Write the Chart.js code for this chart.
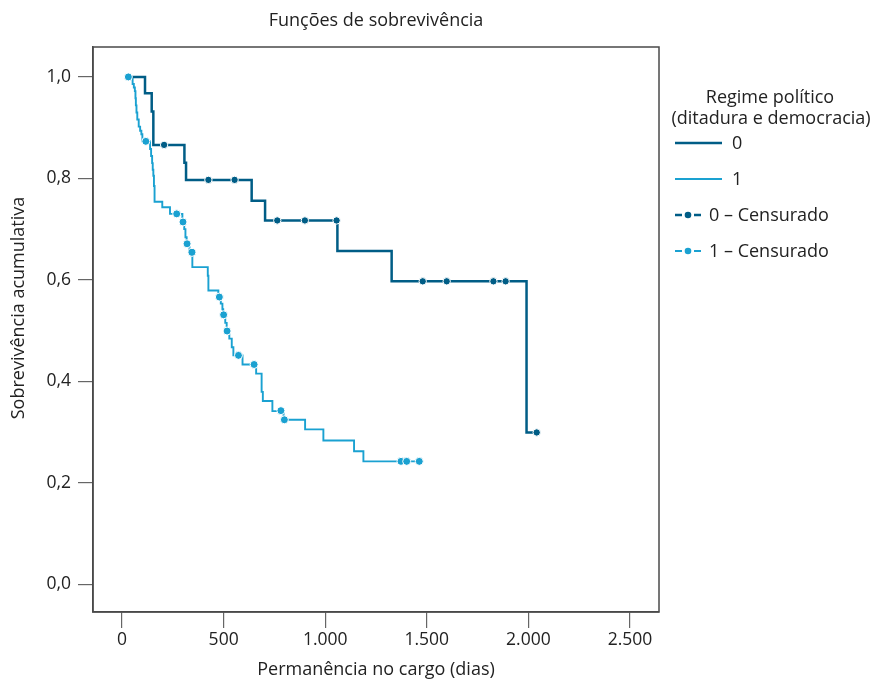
<!DOCTYPE html>
<html>
<head>
<meta charset="utf-8">
<script src="https://cdn.jsdelivr.net/npm/chart.js@4"></script>
<style>
html,body{margin:0;padding:0;background:#fff;}
#wrap{width:877px;height:679px;position:relative;}
</style>
</head>
<body>
<div id="wrap"><canvas id="c" width="877" height="679"></canvas></div>
<script>
// ---- Data ----
const chartTitle = 'Funções de sobrevivência';
const xTitle = 'Permanência no cargo (dias)';
const yTitle = 'Sobrevivência acumulativa';
const legendTitle = ['Regime político', '(ditadura e democracia)'];
const seriesNames = ['0', '1', '0 – Censurado', '1 – Censurado'];

const xTicks = [0, 500, 1000, 1500, 2000, 2500];
const yTicks = [0, 0.2, 0.4, 0.6, 0.8, 1.0];

// Group 0 (ditadura): step times and survival after each step
const times0 = [31, 113, 146, 154, 307, 315, 638, 704, 1060, 1327, 1991, 2041];
const surv0  = [1.0, 0.968, 0.932, 0.866, 0.831, 0.797, 0.756, 0.717, 0.657, 0.597, 0.299, 0.299];
// Group 0 censored observations
const cens0T = [207, 425, 554, 764, 900, 1056, 1480, 1598, 1828, 1888, 2041];
const cens0S = [0.866, 0.797, 0.797, 0.717, 0.717, 0.717, 0.597, 0.597, 0.597, 0.597, 0.299];

// Group 1 (democracia)
const times1 = [31, 52, 58, 63, 66, 68, 71, 75, 82, 89, 95, 100, 138, 143, 148, 151, 154, 157, 160, 198, 236,
                297, 306, 312, 318, 332, 346, 422, 425, 474, 486, 494, 498, 508, 515, 528, 540, 548,
                593, 660, 687, 693, 740, 795, 901, 991, 1142, 1188, 1463];
const surv1  = [1.0, 0.986, 0.979, 0.972, 0.958, 0.944, 0.930, 0.916, 0.902, 0.894, 0.887, 0.873, 0.858, 0.844, 0.830, 0.817, 0.805, 0.785, 0.754, 0.743, 0.730,
                0.714, 0.700, 0.684, 0.671, 0.654, 0.625, 0.608, 0.579, 0.566, 0.553, 0.542, 0.531, 0.515, 0.499, 0.484, 0.467, 0.451,
                0.433, 0.415, 0.379, 0.361, 0.341, 0.324, 0.305, 0.283, 0.262, 0.242, 0.242];
const cens1T = [31, 117, 269, 300, 320, 344, 479, 500, 517, 573, 650, 782, 799, 1373, 1401, 1463];
const cens1S = [1.0, 0.873, 0.730, 0.714, 0.671, 0.654, 0.566, 0.531, 0.499, 0.451, 0.433, 0.342, 0.324, 0.242, 0.242, 0.242];

// ---- Styles ----
const DARK = '#005d86';
const LIGHT = '#1aa1d1';
const FONT = 'Open Sans';
const TXT = '#222';
const FS = 17.5;

const pts = (t, s) => t.map((v, i) => ({x: v, y: s[i]}));
const fmtX = v => v >= 1000 ? Math.floor(v / 1000) + '.' + String(v % 1000).padStart(3, '0') : String(v);
const fmtY = v => v.toFixed(1).replace('.', ',');

const extras = {
  id: 'extras',
  beforeDatasetsDraw(chart) {
    const {ctx, chartArea: a} = chart;
    ctx.save();
    ctx.strokeStyle = '#4a4a4a';
    ctx.lineWidth = 1.5;
    ctx.strokeRect(a.left, a.top, a.right - a.left, a.bottom - a.top);
    ctx.restore();
  },
  afterDraw(chart) {
    const {ctx, chartArea: a} = chart;
    ctx.save();
    ctx.fillStyle = TXT;
    ctx.textBaseline = 'middle';
    // main title
    ctx.font = `18px "${FONT}"`;
    ctx.textAlign = 'center';
    ctx.fillText(chartTitle, (a.left + a.right) / 2, 21);
    // y title
    ctx.save();
    ctx.translate(19, 308);
    ctx.rotate(-Math.PI / 2);
    ctx.font = `18px "${FONT}"`;
    ctx.fillText(yTitle, 0, 0);
    ctx.restore();
    // legend
    ctx.font = `18px "${FONT}"`;
    ctx.textAlign = 'center';
    ctx.fillText(legendTitle[0], 770, 98);
    ctx.fillText(legendTitle[1], 771, 119);
    ctx.textAlign = 'left';
    const rows = [
      {y: 143, color: DARK, w: 2.5, cens: false},
      {y: 179, color: LIGHT, w: 1.8, cens: false},
      {y: 215, color: DARK, w: 2.5, cens: true},
      {y: 251, color: LIGHT, w: 1.8, cens: true}
    ];
    rows.forEach((r, i) => {
      ctx.strokeStyle = r.color;
      ctx.lineWidth = r.w;
      ctx.beginPath();
      if (!r.cens) {
        ctx.moveTo(675, r.y); ctx.lineTo(722, r.y);
        ctx.stroke();
        ctx.fillText(seriesNames[i], 732, r.y + 1);
      } else {
        ctx.moveTo(675, r.y); ctx.lineTo(682, r.y);
        ctx.moveTo(694, r.y); ctx.lineTo(701, r.y);
        ctx.stroke();
        ctx.fillStyle = r.color;
        ctx.beginPath();
        ctx.arc(688, r.y, 3.3, 0, Math.PI * 2);
        ctx.fill();
        ctx.fillStyle = TXT;
        ctx.fillText(seriesNames[i], 709, r.y + 1);
      }
    });
    ctx.restore();
  }
};

new Chart(document.getElementById('c'), {
  type: 'scatter',
  data: {
    datasets: [
      {label: seriesNames[2], data: pts(cens0T, cens0S), showLine: false, pointRadius: 3.7,
       pointBackgroundColor: DARK, pointBorderColor: '#ffffff', pointBorderWidth: 1},
      {label: seriesNames[3], data: pts(cens1T, cens1S), showLine: false, pointRadius: 4,
       pointBackgroundColor: LIGHT, pointBorderColor: '#ffffff', pointBorderWidth: 1},
      {label: seriesNames[0], data: pts(times0, surv0), showLine: true, stepped: true, borderColor: DARK,
       borderWidth: 2.5, pointRadius: 0, fill: false},
      {label: seriesNames[1], data: pts(times1, surv1), showLine: true, stepped: true, borderColor: LIGHT,
       borderWidth: 1.9, pointRadius: 0, fill: false}
    ]
  },
  options: {
    responsive: false,
    animation: false,
    devicePixelRatio: 1,
    layout: {padding: {left: 0, right: 218, top: 47, bottom: 0}},
    plugins: {legend: {display: false}, title: {display: false}, tooltip: {enabled: false}},
    scales: {
      x: {
        type: 'linear', min: -143, max: 2643,
        afterBuildTicks: s => { s.ticks = xTicks.map(v => ({value: v})); },
        afterFit: s => { s.height = 67; },
        ticks: {callback: v => fmtX(v), color: TXT, font: {family: FONT, size: FS}, padding: 2, maxRotation: 0, autoSkip: false},
        grid: {drawOnChartArea: false, drawTicks: true, tickLength: 16, color: '#666', lineWidth: 1.2},
        border: {display: true, color: '#4a4a4a', width: 1.5},
        title: {display: true, text: xTitle, color: TXT, font: {family: FONT, size: 18}, padding: {top: 0, bottom: -2}}
      },
      y: {
        type: 'linear', min: -0.055, max: 1.059,
        afterBuildTicks: s => { s.ticks = yTicks.map(v => ({value: v})); },
        afterFit: s => { s.width = 93; },
        ticks: {callback: v => fmtY(v), color: TXT, font: {family: FONT, size: FS}, padding: 7, autoSkip: false},
        grid: {drawOnChartArea: false, drawTicks: true, tickLength: 15, color: '#666', lineWidth: 1.2},
        border: {display: true, color: '#4a4a4a', width: 1.5}
      }
    }
  },
  plugins: [extras]
});
</script>
</body>
</html>
